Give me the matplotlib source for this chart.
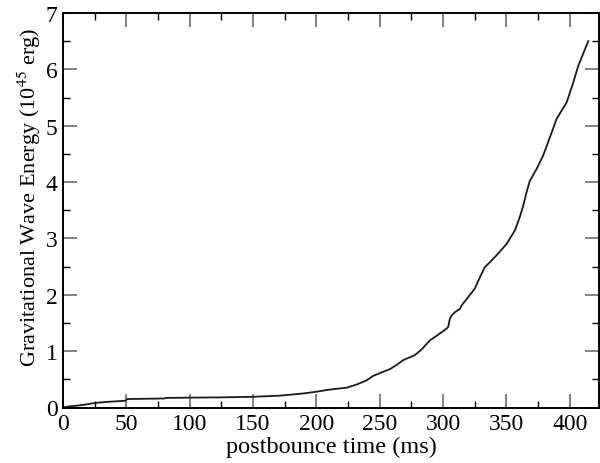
import numpy as np
import matplotlib
matplotlib.use("Agg")
import matplotlib.pyplot as plt
from matplotlib.ticker import MultipleLocator

plt.rcParams['font.family'] = ['Liberation Serif', 'DejaVu Serif']
plt.rcParams['mathtext.fontset'] = 'stix'

# postbounce time (ms) and cumulative GW energy (1e45 erg)
t = [0, 5, 10, 17, 25, 35, 49.5, 50.5, 65, 80, 81, 100, 125, 150, 171, 176,
     190, 200, 208, 215, 223.7, 232, 239.5, 244.7, 250, 257.9, 263, 268.4,
     277.7, 283, 289.5, 296, 302.7, 304, 305.3, 306.6, 309.2, 313.2, 314.5,
     319.8, 325, 329, 332.9, 337, 342.1, 350, 356.6, 360.5, 363.2, 365.8,
     368.4, 373.7, 378.9, 384.2, 389.5, 393, 397.4, 402.6, 406.6, 410, 414.5]
E = [0.0, 0.02, 0.03, 0.05, 0.08, 0.10, 0.12, 0.15, 0.155, 0.16, 0.17, 0.175,
     0.18, 0.19, 0.21, 0.22, 0.25, 0.28, 0.31, 0.33, 0.35, 0.41, 0.48, 0.56,
     0.61, 0.68, 0.75, 0.84, 0.93, 1.03, 1.19, 1.29, 1.40, 1.43, 1.575, 1.63,
     1.69, 1.75, 1.81, 1.96, 2.11, 2.31, 2.49, 2.58, 2.70, 2.90, 3.14, 3.38,
     3.58, 3.82, 4.02, 4.23, 4.47, 4.79, 5.12, 5.25, 5.41, 5.76, 6.06, 6.25, 6.50]

fig = plt.figure(figsize=(6, 4.64), dpi=100)
ax = fig.add_axes([63/600, 1 - 408.5/464, 536/600, 394.5/464])

ax.plot(t, E, color="#1a1a1a", lw=1.3)

ax.set_xlim(0, 423)
ax.set_ylim(0, 7)
ax.xaxis.set_major_locator(MultipleLocator(50))
ax.xaxis.set_minor_locator(MultipleLocator(25))
ax.yaxis.set_major_locator(MultipleLocator(1))
ax.yaxis.set_minor_locator(MultipleLocator(0.5))
ax.tick_params(which="both", direction="in", top=True, right=True, labelsize=17)
ax.tick_params(which="major", length=10, width=1.3, color="#777777", pad=4)
ax.tick_params(which="minor", length=5, width=1.0, color="black")
for s in ax.spines.values():
    s.set_linewidth(1.4)

ax.set_xlabel("postbounce time (ms)", fontsize=17.5, labelpad=1)
ax.set_ylabel("Gravitational Wave Energy (10$^{45}$ erg)", fontsize=16)
ax.yaxis.set_label_coords(-0.037, 0.535)

fig.savefig("out.png", dpi=100)
